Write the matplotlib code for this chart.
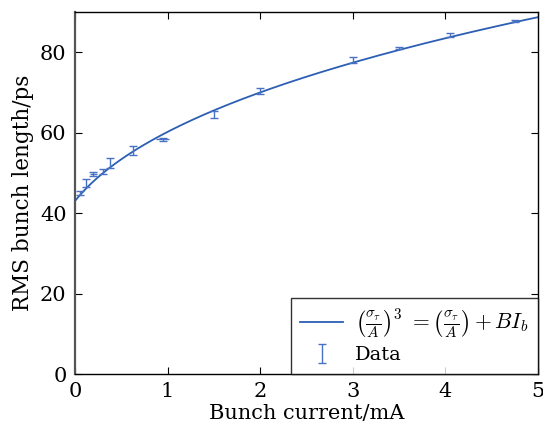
import numpy as np
import matplotlib
matplotlib.use("Agg")
import matplotlib.pyplot as plt

current = [0.05, 0.12, 0.20, 0.30, 0.38, 0.63, 0.95, 1.50, 2.00, 3.00, 3.50, 4.05, 4.75]
length = [45.0, 47.5, 49.7, 50.4, 52.4, 55.6, 58.4, 64.6, 70.3, 78.0, 81.0, 84.2, 87.7]
length_err = [0.6, 0.9, 0.5, 0.6, 1.2, 1.1, 0.4, 0.9, 0.8, 0.7, 0.3, 0.5, 0.3]
current_err = [0.0, 0.0, 0.04, 0.0, 0.0, 0.0, 0.07, 0.0, 0.0, 0.0, 0.0, 0.0, 0.03]

A = 43.0
B = 1.344

plt.rcParams['font.family'] = 'DejaVu Serif'
plt.rcParams['mathtext.fontset'] = 'cm'

fig = plt.figure(figsize=(5.43, 4.28), dpi=100)
ax = fig.add_axes([0.138, 0.126, 0.853, 0.846])

s = np.linspace(1.0, 2.2, 400)
I = (s**3 - s) / B
ax.plot(I, A * s, color='#2c5fb3', lw=1.3,
        label=r'$\left(\frac{\sigma_\tau}{A}\right)^3\ =\left(\frac{\sigma_\tau}{A}\right)+BI_b$')
ax.errorbar(current, length, yerr=length_err, fmt='none',
            ecolor='#4a72c4', elinewidth=1.0, capsize=3, capthick=1.0, label='Data')
ax.errorbar(current, length, xerr=current_err, fmt='none',
            ecolor='#4a72c4', elinewidth=1.0, capsize=0)

ax.set_xlim(0, 5)
ax.set_ylim(0, 90)
ax.set_xticks([0, 1, 2, 3, 4, 5])
ax.set_yticks([0, 20, 40, 60, 80])
ax.tick_params(direction='in', top=True, right=True, labelsize=15, length=5, pad=6)
ax.set_xlabel('Bunch current/mA', fontsize=15, labelpad=2)
ax.set_ylabel('RMS bunch length/ps', fontsize=15.5, labelpad=4)
for sp in ax.spines.values():
    sp.set_linewidth(1.0)
ax.spines['left'].set_color('#555555')
ax.spines['left'].set_linewidth(1.6)

leg = ax.legend(loc='lower right', fontsize=14, frameon=True, fancybox=False,
                borderaxespad=0, handlelength=2.2, borderpad=0.5, labelspacing=0.25,
                handletextpad=0.6)
leg.get_texts()[0].set_fontsize(15.5)
leg.get_frame().set_edgecolor('black')
leg.get_frame().set_linewidth(1.0)

fig.savefig('out.png', dpi=100)
